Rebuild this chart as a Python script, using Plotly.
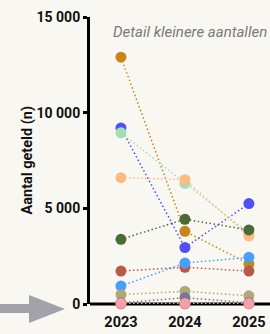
import plotly.graph_objects as go

years = [2023, 2024, 2025]

series_names = ["Goud", "Blauw", "Lichtgroen", "Perzik", "Donkergroen", "Roodbruin",
                "Lichtblauw", "Kaki", "Grijspaars", "Donkerrood", "Roze"]
series_values = [
    [12900, 3800, 2100],
    [9200, 2950, 5250],
    [8950, 6300, 3700],
    [6600, 6500, 3550],
    [3380, 4430, 3870],
    [1720, 1920, 1720],
    [940, 2140, 2440],
    [490, 660, 430],
    [60, 330, 60],
    [15, 15, 15],
    [30, 30, 25],
]
series_colors = ["#c8861a", "#5050f5", "#a8dcb4", "#fdbb84", "#4a6b35", "#b85a48",
                 "#4a9ef5", "#b0a878", "#7a7890", "#8b2030", "#f4a0a8"]

ytick_vals = [0, 5000, 10000, 15000]
ytick_text = ["0", "5 000", "10 000", "15 000"]
xtick_text = ["2023", "2024", "2025"]

title_text = "Detail kleinere aantallen"
ytitle_text = "Aantal geteld (n)"

fig = go.Figure()
for name, vals, col in zip(series_names, series_values, series_colors):
    fig.add_trace(go.Scatter(
        x=years, y=vals, name=name, mode="lines+markers",
        line=dict(color=col, width=1.5, dash="1.5px,2.5px"),
        marker=dict(color=col, size=11),
        cliponaxis=False, showlegend=False, hoverinfo="skip",
    ))

font_main = "Roboto, 'DejaVu Sans', sans-serif"

fig.update_layout(
    width=270, height=334,
    margin=dict(l=90, r=0, t=17, b=30),
    paper_bgcolor="#f9f7f2", plot_bgcolor="#f9f7f2",
    showlegend=False,
    xaxis=dict(
        range=[2022.516, 2025.33], tickvals=years, ticktext=xtick_text,
        showgrid=False, zeroline=False, showline=False, ticks="",
        ticklabelstandoff=7,
        tickfont=dict(family=font_main, size=14.5, color="#111111", weight="bold"),
        fixedrange=True,
    ),
    yaxis=dict(
        range=[0, 15000], tickvals=ytick_vals, ticktext=ytick_text,
        showgrid=False, zeroline=False, showline=True, linecolor="#000000", linewidth=3,
        ticks="outside", ticklen=4, tickwidth=3, tickcolor="#000000",
        tickfont=dict(family=font_main, size=14, color="#111111", weight="bold"),
        fixedrange=True,
    ),
)

# bottom axis line
fig.add_shape(type="line", xref="paper", yref="paper", x0=0, x1=1, y0=0, y1=0,
              line=dict(color="#000000", width=3), layer="below")

# grey arrow pointing to the chart
fig.add_shape(type="path", xref="paper", yref="paper",
              path="M -0.5,0 L -0.3389,0 L -0.3389,0.03136 L -0.1389,-0.01742 "
                   "L -0.3389,-0.0662 L -0.3389,-0.03136 L -0.5,-0.03136 Z",
              fillcolor="#a2a2aa", line=dict(width=0))

fig.add_annotation(text=title_text, xref="paper", yref="paper", x=0.995, y=0.948,
                   xanchor="right", yanchor="middle", showarrow=False,
                   font=dict(family=font_main, size=15, color="#7a7a7a", style="italic"))

fig.add_annotation(text=ytitle_text, xref="paper", yref="paper", x=-0.35, y=0.5,
                   xanchor="center", yanchor="middle", textangle=-90, showarrow=False,
                   font=dict(family=font_main, size=14.5, color="#111111", weight="bold"))

fig.write_html("out.html", config={"displayModeBar": False},
               post_script="document.body.style.margin='0';document.body.style.background='#f9f7f2';")
